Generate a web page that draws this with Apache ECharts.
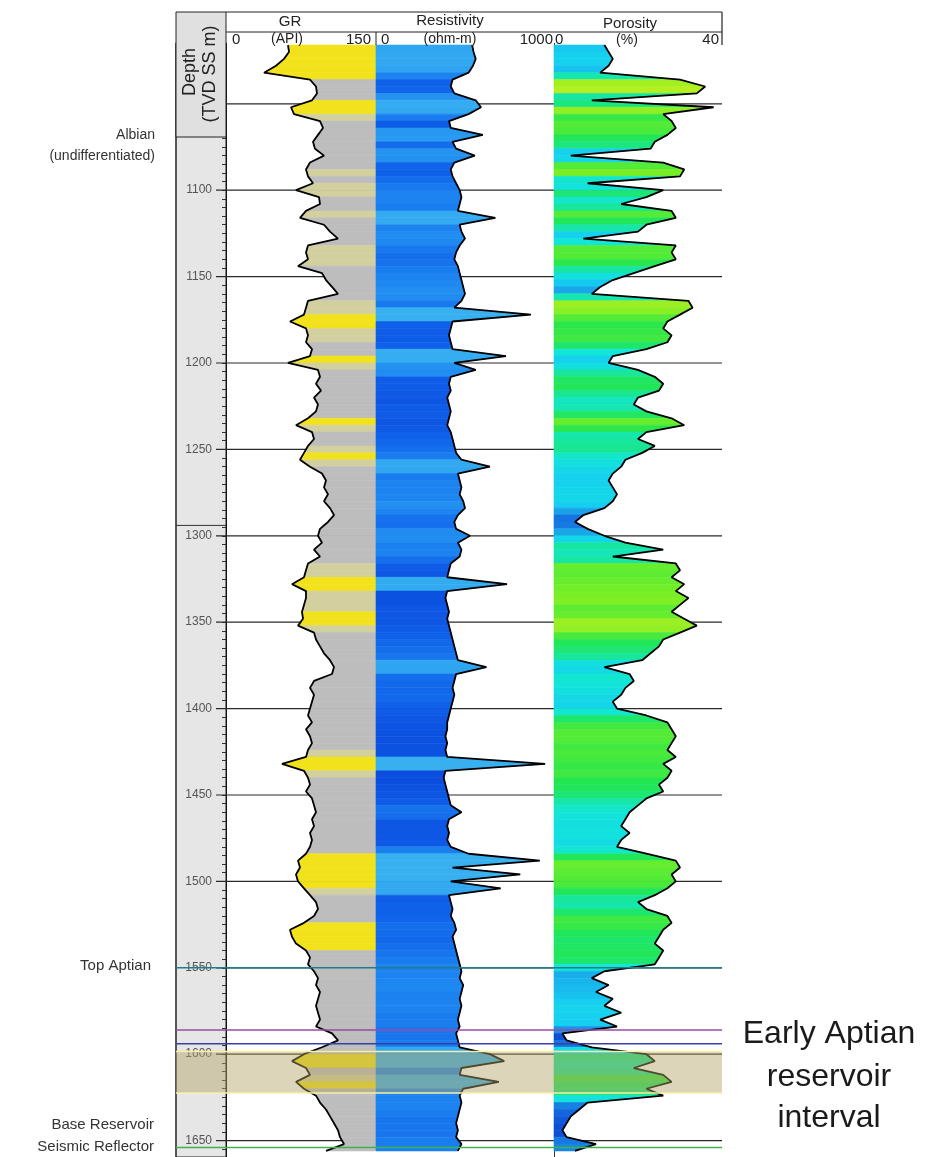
<!DOCTYPE html>
<html><head><meta charset="utf-8">
<script src="https://cdn.jsdelivr.net/npm/echarts@6/dist/echarts.min.js"></script>
<style>html,body{margin:0;padding:0;background:#fff}#c{width:930px;height:1157px}</style>
</head><body><div id="c"></div>
<script>
// ---------------- DATA ----------------
const DEPTH_START = 1016;   // m, first sample
const DEPTH_STEP = 4;       // m between samples
// Gamma ray (API)
const gr = [62,63,58,50,38,84,90,91,86,65,
 68,94,97,92,87,89,98,84,80,82,
 87,70,93,94,80,74,98,104,112,82,
 80,82,72,96,100,106,112,82,80,78,
 64,80,82,80,86,84,62,92,94,90,
 95,88,92,90,82,70,86,88,82,78,
 74,84,96,100,98,102,98,104,108,102,
 94,92,96,88,94,82,80,78,66,80,
 80,78,76,77,72,88,90,94,98,104,
 108,106,88,84,88,86,84,82,86,80,
 84,86,82,80,56,78,82,84,80,86,
 88,90,86,88,84,86,84,80,72,74,
 70,72,78,84,90,92,88,78,64,66,
 70,80,84,82,88,92,90,94,92,90,
 92,94,90,106,112,96,78,66,80,84,
 70,78,90,94,100,104,108,112,114,118,
 100];
// Resistivity (ohm-m)
const res = [540,548,560,545,520,430,420,440,560,590,
 520,410,420,600,430,450,555,440,420,430,
 450,470,480,470,460,670,470,480,500,470,
 450,440,460,470,480,490,500,480,440,870,
 430,420,410,420,430,730,440,560,420,410,
 420,400,410,420,410,400,420,430,440,450,
 480,640,460,470,480,470,490,500,460,440,
 450,528,460,480,470,420,410,400,736,400,
 390,400,410,400,410,420,430,440,450,460,
 620,450,440,430,440,430,420,410,400,400,
 390,400,390,400,950,390,380,390,400,410,
 420,480,410,400,410,400,420,520,920,430,
 810,420,700,410,420,430,420,440,450,430,
 440,450,460,470,480,470,490,480,470,480,
 470,460,470,450,460,470,640,720,480,470,
 690,490,470,480,470,460,450,460,450,480,
 460];
// Porosity (%)
const por = [12,13,14,13,11,30,36,34,9,38,
 26,28,29,27,24,23,4,26,31,30,
 8,26,22,16,28,29,22,20,7,29,
 28,29,24,19,14,11,9,32,33,30,
 27,26,28,27,22,14,13,20,24,26,
 25,20,19,22,28,31,22,20,24,21,
 17,16,14,13,14,15,14,12,7,5,
 8,12,17,26,14,29,30,28,31,29,
 32,30,28,31,34,30,26,25,23,21,
 12,18,19,17,16,14,15,22,27,28,
 29,28,27,29,26,28,27,25,26,22,
 20,18,17,16,18,16,15,22,29,30,
 28,29,27,24,20,22,27,28,26,25,
 24,26,25,24,12,9,13,10,14,12,
 16,11,15,2,3,9,22,24,19,26,
 28,22,26,8,6,4,3,2,3,10,
 5];
const gridLineDepths = [1050,1100,1150,1200,1250,1300,1350,1400,1450,1500,1550,1600,1650];
const markerDepths = [1550, 1586, 1594, 1654];   // Top Aptian, two picks, Base Reservoir Seismic Reflector
const depthTrackBreaks = [1294];
const reservoirInterval = [1598.5, 1622.5];
const trackTitles = ['GR', 'Resistivity', 'Porosity'];
const trackUnits = ['(API)', '(ohm-m)', '(%)'];
const trackMin = [0, 0, 0];
const trackMax = [150, 1000, 40];

// ---------------- STYLE ----------------
const FONT = 'Liberation Sans, Arial, sans-serif';
const markerColors = ['#1f7d8c', '#9a4aa6', '#3a3fa8', '#3fb34a'];
const porStops = [[0,[10,60,204]],[5,[20,102,222]],[9,[26,154,232]],[13,[22,207,240]],[18,[18,230,216]],[22,[24,230,154]],[26,[34,230,80]],[30,[112,238,40]],[34,[180,240,32]]];
const resStops = [[360,[6,64,216]],[420,[15,94,232]],[470,[26,128,240]],[530,[46,164,242]],[600,[56,176,240]]];
function interp(stops, v){
  if (v <= stops[0][0]) return 'rgb(' + stops[0][1].join(',') + ')';
  for (let i = 1; i < stops.length; i++) {
    if (v <= stops[i][0]) {
      const a = stops[i-1], b = stops[i], t = (v - a[0]) / (b[0] - a[0]);
      const c = a[1].map((x, k) => Math.round(x + (b[1][k] - x) * t));
      return 'rgb(' + c.join(',') + ')';
    }
  }
  return 'rgb(' + stops[stops.length-1][1].join(',') + ')';
}
function grColor(v){ return v < 77 ? '#f2e21c' : (v < 82 ? '#d3d0a0' : '#bdbdbd'); }

const TOPPX = 43.3, HPX = 1113.7, DMIN = 1015, DMAX = 1659.5;
const depthOf = i => DEPTH_START + i * DEPTH_STEP;
function segs(vals){ const o = []; for (let i = 0; i < vals.length - 1; i++) o.push([vals[i], depthOf(i), vals[i+1], depthOf(i+1)]); return o; }
function pts(vals){ return vals.map((v, i) => [v, depthOf(i)]); }

function fillSeries(gi, vals, baseVal, colorFn){
  return {
    type: 'custom', xAxisIndex: gi, yAxisIndex: gi, z: 2, silent: true,
    encode: {x: [0, 2], y: [1, 3]},
    data: segs(vals),
    renderItem: function(params, api){
      const v0 = api.value(0), d0 = api.value(1), v1 = api.value(2), d1 = api.value(3);
      const p0 = api.coord([v0, d0]), p1 = api.coord([v1, d1]);
      const b0 = api.coord([baseVal, d0]), b1 = api.coord([baseVal, d1]);
      const col = colorFn((v0 + v1) / 2);
      return {type: 'polygon', shape: {points: [p0, b0, b1, p1]}, style: {fill: col, stroke: col, lineWidth: 0.6}};
    }
  };
}
function curveSeries(gi, vals){
  return {type: 'line', xAxisIndex: gi, yAxisIndex: gi, z: 3, data: pts(vals), symbol: 'none', silent: true,
    lineStyle: {color: '#000', width: 1.8}};
}
function yAx(gi, extra){
  return Object.assign({type: 'value', gridIndex: gi, inverse: true, min: DMIN, max: DMAX, interval: 5,
    axisLabel: {show: false}, axisTick: {show: false}, axisLine: {show: false}, splitLine: {show: false}}, extra || {});
}

const option = {
  animation: false,
  backgroundColor: '#ffffff',
  grid: [
    {left: 176, top: TOPPX, width: 50, height: HPX, show: true, backgroundColor: '#e6e6e6', borderColor: '#222', borderWidth: 1},
    {left: 226, top: TOPPX, width: 150, height: HPX},
    {left: 376, top: TOPPX, width: 178, height: HPX},
    {left: 554, top: TOPPX, width: 168, height: HPX},
    {left: 176, top: TOPPX, width: 546, height: HPX}
  ],
  xAxis: [
    {type: 'value', gridIndex: 0, min: 0, max: 1, show: false},
    {type: 'value', gridIndex: 1, min: trackMin[0], max: trackMax[0], show: false},
    {type: 'value', gridIndex: 2, min: trackMin[1], max: trackMax[1], show: false},
    {type: 'value', gridIndex: 3, min: trackMin[2], max: trackMax[2], show: false},
    {type: 'value', gridIndex: 4, min: 0, max: 1, show: false}
  ],
  yAxis: [
    yAx(0),
    yAx(1, {
      axisLine: {show: true, lineStyle: {color: '#111', width: 1}},
      axisTick: {show: true, length: 4, inside: false, lineStyle: {color: '#333', width: 1}},
      axisLabel: {show: true, margin: 14, fontSize: 12, color: '#555', fontFamily: FONT,
        formatter: v => (v % 50 === 0 && v >= 1100) ? String(v) : ''}
    }),
    yAx(2),
    yAx(3, {axisLine: {show: true, lineStyle: {color: '#333', width: 1}}}),
    yAx(4, {position: 'right', axisLine: {show: true, lineStyle: {color: '#444', width: 1.5}}})
  ],
  series: [
    { // 50 m depth grid lines (behind fills)
      type: 'custom', xAxisIndex: 4, yAxisIndex: 4, z: 1, silent: true, encode: {x: 0, y: 1},
      data: gridLineDepths.map(d => [0, d]),
      renderItem: function(params, api){
        const cs = params.coordSys; const y = api.coord([0, api.value(1)])[1];
        return {type: 'line', shape: {x1: cs.x + 40, y1: y, x2: cs.x + cs.width, y2: y}, style: {stroke: '#2a2a2a', lineWidth: 1.2}};
      }
    },
    { // depth track section break
      type: 'custom', xAxisIndex: 0, yAxisIndex: 0, z: 1, silent: true, encode: {x: 0, y: 1},
      data: depthTrackBreaks.map(d => [0, d]),
      renderItem: function(params, api){
        const a = api.coord([0, api.value(1)]), b = api.coord([1, api.value(1)]);
        return {type: 'line', shape: {x1: a[0], y1: a[1], x2: b[0], y2: b[1]}, style: {stroke: '#333', lineWidth: 1}};
      }
    },
    fillSeries(1, gr, trackMax[0], grColor),
    fillSeries(2, res, 0, v => interp(resStops, v)),
    fillSeries(3, por, 0, v => interp(porStops, v)),
    curveSeries(1, gr), curveSeries(2, res), curveSeries(3, por),
    { // formation marker lines
      type: 'custom', xAxisIndex: 4, yAxisIndex: 4, z: 4, silent: true, encode: {x: 0, y: 1},
      data: markerDepths.map(d => [0, d]),
      renderItem: function(params, api){
        const a = api.coord([0, api.value(1)]), b = api.coord([1, api.value(1)]);
        return {type: 'line', shape: {x1: a[0], y1: a[1], x2: b[0], y2: b[1]},
          style: {stroke: markerColors[params.dataIndex], lineWidth: 1.5}};
      }
    },
    { // Early Aptian reservoir interval band
      type: 'custom', xAxisIndex: 4, yAxisIndex: 4, z: 5, silent: true, encode: {x: 0, y: [1, 2]},
      data: [[0, reservoirInterval[0], reservoirInterval[1]]],
      renderItem: function(params, api){
        const a = api.coord([0, api.value(1)]), b = api.coord([1, api.value(2)]);
        return {type: 'group', children: [
          {type: 'rect', shape: {x: a[0], y: a[1], width: b[0] - a[0], height: b[1] - a[1]},
            style: {fill: 'rgba(178,162,100,0.45)'}},
          {type: 'line', shape: {x1: a[0], y1: a[1], x2: b[0], y2: a[1]}, style: {stroke: '#f4f0a8', lineWidth: 1.5}},
          {type: 'line', shape: {x1: a[0], y1: b[1], x2: b[0], y2: b[1]}, style: {stroke: '#f4f0a8', lineWidth: 1.5}}
        ]};
      }
    }
  ],
  graphic: [
    {type: 'rect', z: 100, shape: {x: 176, y: 12, width: 50, height: 125}, style: {fill: '#e0e0e0', stroke: '#222', lineWidth: 1}},
    {type: 'text', z: 101, x: 190, y: 72, rotation: Math.PI / 2, style: {text: 'Depth', fontSize: 18, fontFamily: FONT, fill: '#222', align: 'center', verticalAlign: 'middle'}},
    {type: 'text', z: 101, x: 210, y: 74, rotation: Math.PI / 2, style: {text: '(TVD SS m)', fontSize: 18, fontFamily: FONT, fill: '#222', align: 'center', verticalAlign: 'middle'}},
    {type: 'line', z: 100, shape: {x1: 226, y1: 12, x2: 722, y2: 12}, style: {stroke: '#222', lineWidth: 1.2}},
    {type: 'line', z: 100, shape: {x1: 226, y1: 32, x2: 722, y2: 32}, style: {stroke: '#222', lineWidth: 1}},
    {type: 'line', z: 100, shape: {x1: 722, y1: 12, x2: 722, y2: 45}, style: {stroke: '#222', lineWidth: 1.2}},
    {type: 'line', z: 100, shape: {x1: 376, y1: 32, x2: 376, y2: 45}, style: {stroke: '#222', lineWidth: 1}},
    {type: 'text', z: 101, x: 290, y: 22, style: {text: trackTitles[0], fontSize: 15, fontFamily: FONT, fill: '#222', align: 'center', verticalAlign: 'middle'}},
    {type: 'text', z: 101, x: 287, y: 39, style: {text: trackUnits[0], fontSize: 14, fontFamily: FONT, fill: '#222', align: 'center', verticalAlign: 'middle'}},
    {type: 'text', z: 101, x: 232, y: 40, style: {text: String(trackMin[0]), fontSize: 15, fontFamily: FONT, fill: '#222', align: 'left', verticalAlign: 'middle'}},
    {type: 'text', z: 101, x: 371, y: 40, style: {text: String(trackMax[0]), fontSize: 15, fontFamily: FONT, fill: '#222', align: 'right', verticalAlign: 'middle'}},
    {type: 'text', z: 101, x: 450, y: 21, style: {text: trackTitles[1], fontSize: 15, fontFamily: FONT, fill: '#222', align: 'center', verticalAlign: 'middle'}},
    {type: 'text', z: 101, x: 450, y: 39, style: {text: trackUnits[1], fontSize: 14, fontFamily: FONT, fill: '#222', align: 'center', verticalAlign: 'middle'}},
    {type: 'text', z: 101, x: 381, y: 40, style: {text: String(trackMin[1]), fontSize: 15, fontFamily: FONT, fill: '#222', align: 'left', verticalAlign: 'middle'}},
    {type: 'text', z: 101, x: 553, y: 40, style: {text: String(trackMax[1]), fontSize: 15, fontFamily: FONT, fill: '#222', align: 'right', verticalAlign: 'middle'}},
    {type: 'text', z: 101, x: 630, y: 24, style: {text: trackTitles[2], fontSize: 15, fontFamily: FONT, fill: '#222', align: 'center', verticalAlign: 'middle'}},
    {type: 'text', z: 101, x: 627, y: 40, style: {text: trackUnits[2], fontSize: 14, fontFamily: FONT, fill: '#222', align: 'center', verticalAlign: 'middle'}},
    {type: 'text', z: 101, x: 555, y: 40, style: {text: String(trackMin[2]), fontSize: 15, fontFamily: FONT, fill: '#222', align: 'left', verticalAlign: 'middle'}},
    {type: 'text', z: 101, x: 719, y: 40, style: {text: String(trackMax[2]), fontSize: 15, fontFamily: FONT, fill: '#222', align: 'right', verticalAlign: 'middle'}},
    {type: 'text', z: 101, x: 155, y: 135, style: {text: 'Albian', fontSize: 14, fontFamily: FONT, fill: '#333', align: 'right', verticalAlign: 'middle'}},
    {type: 'text', z: 101, x: 155, y: 156, style: {text: '(undifferentiated)', fontSize: 14, fontFamily: FONT, fill: '#333', align: 'right', verticalAlign: 'middle'}},
    {type: 'text', z: 101, x: 151, y: 966, style: {text: 'Top Aptian', fontSize: 15, fontFamily: FONT, fill: '#333', align: 'right', verticalAlign: 'middle'}},
    {type: 'text', z: 101, x: 154, y: 1125, style: {text: 'Base Reservoir', fontSize: 15, fontFamily: FONT, fill: '#333', align: 'right', verticalAlign: 'middle'}},
    {type: 'text', z: 101, x: 154, y: 1147, style: {text: 'Seismic Reflector', fontSize: 15, fontFamily: FONT, fill: '#333', align: 'right', verticalAlign: 'middle'}},
    {type: 'text', z: 101, x: 829, y: 1034, style: {text: 'Early Aptian', fontSize: 32, fontFamily: FONT, fill: '#1a1a1a', align: 'center', verticalAlign: 'middle'}},
    {type: 'text', z: 101, x: 829, y: 1077, style: {text: 'reservoir', fontSize: 32, fontFamily: FONT, fill: '#1a1a1a', align: 'center', verticalAlign: 'middle'}},
    {type: 'text', z: 101, x: 829, y: 1118, style: {text: 'interval', fontSize: 32, fontFamily: FONT, fill: '#1a1a1a', align: 'center', verticalAlign: 'middle'}}
  ]
};
const chart = echarts.init(document.getElementById('c'));
chart.setOption(option);
</script>
</body></html>
